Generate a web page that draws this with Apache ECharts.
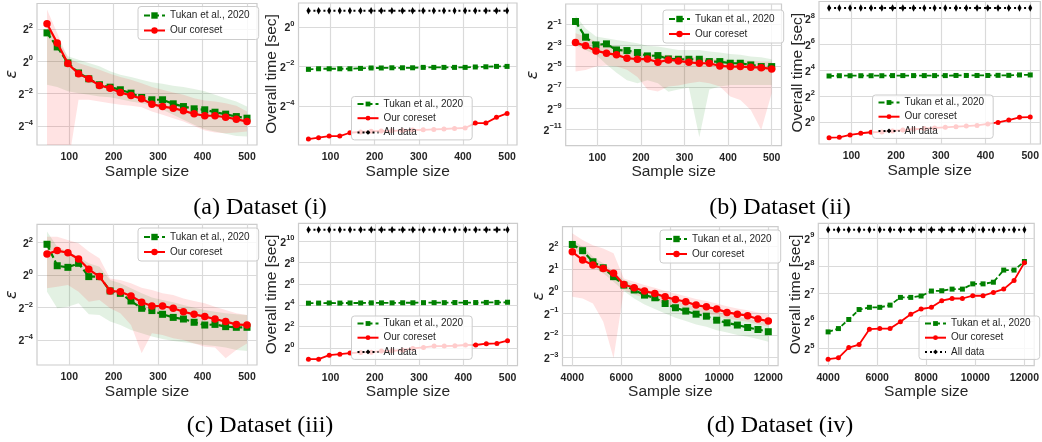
<!DOCTYPE html>
<html>
<head>
<meta charset="utf-8">
<script src="https://cdn.jsdelivr.net/npm/echarts@6/dist/echarts.min.js"></script>
<style>
  html, body { margin: 0; padding: 0; background: #fff; }
  #chart { width: 1042px; height: 442px; }
</style>
</head>
<body>
<div id="chart"></div>
<script>
// sample sizes on the x axes
var sizesSmall = [50, 73, 97, 121, 144, 168, 192, 215, 239, 263, 286, 310, 334, 357, 381, 405, 428, 452, 476, 500];
var sizesLarge = [4000, 4421, 4842, 5263, 5684, 6105, 6526, 6947, 7368, 7789, 8210, 8631, 9052, 9473, 9894, 10315, 10736, 11157, 11578, 12000];
var xTicksSmall = [100, 200, 300, 400, 500];
var xTicksLarge = [4000, 6000, 8000, 10000, 12000];
var captions = ["(a) Dataset (i)", "(b) Dataset (ii)", "(c) Dataset (iii)", "(d) Dataset (iv)"];

// all values below are log2 (epsilon or seconds)
// dataset (i)
var epsTukan_i = [1.76, 0.89, -0.1, -0.72, -1.08, -1.45, -1.6, -1.76, -1.97, -2.24, -2.38, -2.38, -2.63, -2.8, -2.94, -3.0, -3.15, -3.27, -3.42, -3.52];
var epsOurs_i = [2.32, 1.14, -0.14, -0.77, -1.08, -1.49, -1.66, -1.93, -2.11, -2.32, -2.65, -2.8, -2.9, -3.06, -3.25, -3.37, -3.37, -3.46, -3.58, -3.73];
var epsTukanHi_i = [2.07, 1.35, 0.31, 0.1, -0.1, -0.31, -0.62, -0.83, -0.97, -1.14, -1.3, -1.39, -1.51, -1.59, -1.72, -1.86, -2.07, -2.28, -2.48, -2.8];
var epsTukanLo_i = [-1.45, -1.59, -1.86, -1.97, -2.07, -2.17, -2.22, -2.34, -2.48, -2.59, -2.75, -3.0, -3.31, -3.62, -3.93, -4.2, -4.35, -4.49, -4.62, -4.66];
var epsOursHi_i = [3.21, 1.76, 0.21, -0.1, -0.31, -0.52, -0.77, -0.97, -1.14, -1.35, -1.59, -1.76, -1.93, -2.07, -2.28, -2.42, -2.48, -2.59, -2.75, -3.11];
var epsOursLo_i = [-40, -40, -6.5, -2.38, -2.38, -2.48, -2.59, -2.69, -2.75, -2.84, -3.11, -3.31, -3.52, -3.73, -4.0, -4.29, -4.41, -4.45, -4.41, -4.35];
var timeTukan_i = [-2.15, -2.12, -2.12, -2.12, -2.12, -2.1, -2.08, -2.08, -2.07, -2.07, -2.07, -2.05, -2.05, -2.05, -2.05, -2.05, -2.03, -2.02, -2.0, -2.0];
var timeOurs_i = [-5.68, -5.61, -5.53, -5.53, -5.36, -5.32, -5.29, -5.27, -5.26, -5.24, -5.22, -5.21, -5.19, -5.17, -5.14, -5.12, -4.87, -4.87, -4.58, -4.38];
var timeAll_i = [0.82, 0.82, 0.82, 0.82, 0.82, 0.82, 0.82, 0.82, 0.82, 0.82, 0.82, 0.82, 0.82, 0.82, 0.82, 0.82, 0.82, 0.82, 0.82, 0.82];

// dataset (ii)
var epsTukan_ii = [-0.69, -2.19, -2.93, -2.83, -3.41, -3.47, -3.66, -3.98, -3.95, -4.27, -4.3, -4.3, -4.3, -4.52, -4.52, -4.68, -4.68, -4.84, -5.0, -5.0];
var epsOurs_ii = [-2.7, -3.02, -3.5, -3.72, -3.88, -4.2, -4.3, -4.27, -4.59, -4.36, -4.46, -4.59, -4.68, -4.68, -4.94, -5.0, -5.0, -5.06, -5.1, -5.22];
var epsTukanHi_ii = [-0.1, -1.33, -2.13, -2.29, -2.45, -2.6, -2.77, -3.02, -3.09, -3.25, -3.41, -3.41, -3.41, -3.56, -3.66, -3.79, -3.88, -4.04, -4.11, -4.3];
var epsTukanLo_ii = [-2.93, -3.41, -3.88, -4.8, -5.6, -6.3, -6.6, -6.3, -6.6, -7.4, -7.2, -7.0, -11.76, -7.2, -6.9, -6.75, -6.75, -6.75, -6.75, -6.75];
var epsOursHi_ii = [-1.81, -2.13, -2.6, -2.93, -3.09, -3.41, -3.56, -3.72, -3.88, -3.88, -4.04, -4.04, -4.1, -4.2, -4.3, -4.36, -4.36, -4.43, -4.52, -4.52];
var epsOursLo_ii = [-5.48, -5.32, -5.0, -4.9, -5.0, -5.3, -6.0, -7.2, -7.39, -6.9, -6.8, -6.6, -6.44, -6.6, -6.91, -7.87, -8.19, -9.15, -11.06, -7.55];
var timeTukan_ii = [3.56, 3.58, 3.58, 3.58, 3.58, 3.58, 3.59, 3.59, 3.59, 3.59, 3.59, 3.59, 3.6, 3.6, 3.6, 3.6, 3.61, 3.61, 3.64, 3.64];
var timeOurs_ii = [-1.21, -1.18, -1.0, -0.87, -0.79, -0.77, -0.69, -0.62, -0.56, -0.51, -0.46, -0.41, -0.36, -0.31, -0.26, -0.15, -0.03, 0.15, 0.36, 0.38];
var timeAll_ii = [8.82, 8.82, 8.82, 8.82, 8.82, 8.82, 8.82, 8.82, 8.82, 8.82, 8.82, 8.82, 8.82, 8.82, 8.82, 8.82, 8.82, 8.82, 8.82, 8.82];

// dataset (iii)
var epsTukan_iii = [1.89, 0.57, 0.47, 0.72, -0.1, -0.1, -0.98, -1.13, -1.6, -2.05, -2.19, -2.42, -2.61, -2.71, -2.91, -3.08, -3.04, -3.18, -3.22, -3.22];
var epsOurs_iii = [1.29, 1.5, 1.37, 0.98, 0.35, -0.1, -0.98, -1.03, -1.29, -1.68, -1.91, -1.91, -2.05, -2.26, -2.42, -2.56, -2.71, -2.87, -3.04, -3.08];
var epsTukanHi_iii = [2.67, 1.74, 1.44, 1.13, 0.72, 0.51, -0.31, -0.51, -0.82, -1.13, -1.39, -1.54, -1.68, -1.85, -2.01, -2.15, -2.26, -2.36, -2.42, -2.46];
var epsTukanLo_iii = [-1.03, -2.05, -1.95, -1.74, -2.42, -2.46, -2.87, -3.08, -3.38, -3.59, -3.79, -3.94, -4.06, -4.14, -4.21, -4.31, -4.37, -4.47, -4.62, -4.68];
var epsOursHi_iii = [2.36, 2.36, 2.15, 1.95, 1.44, 1.03, -0.21, -0.31, -0.51, -0.78, -0.92, -1.13, -1.23, -1.44, -1.6, -1.74, -1.95, -2.15, -2.36, -2.46];
var epsOursLo_iii = [-0.82, -0.72, -0.62, -1.03, -1.64, -1.54, -2.05, -2.36, -3.08, -4.82, -3.59, -3.69, -3.9, -4.0, -4.21, -4.41, -4.47, -5.13, -4.62, -4.21];
var timeTukan_iii = [4.18, 4.19, 4.2, 4.19, 4.2, 4.2, 4.21, 4.21, 4.21, 4.22, 4.22, 4.23, 4.23, 4.23, 4.24, 4.24, 4.24, 4.25, 4.25, 4.27];
var timeOurs_iii = [-1.07, -1.07, -0.69, -0.6, -0.5, -0.44, -0.41, -0.31, -0.28, -0.22, -0.06, 0.03, 0.16, 0.16, 0.19, 0.26, 0.26, 0.38, 0.41, 0.67];
var timeAll_iii = [11.06, 11.06, 11.06, 11.06, 11.06, 11.06, 11.06, 11.06, 11.06, 11.06, 11.06, 11.06, 11.06, 11.06, 11.06, 11.06, 11.06, 11.06, 11.06, 11.06];

// dataset (iv)
var epsTukan_iv = [2.1, 1.82, 1.32, 1.05, 0.65, 0.27, 0.05, -0.18, -0.3, -0.56, -0.75, -0.9, -1.04, -1.13, -1.31, -1.43, -1.53, -1.64, -1.73, -1.83];
var epsOurs_iv = [1.77, 1.4, 1.17, 1.02, 0.8, 0.3, 0.15, 0, -0.11, -0.26, -0.38, -0.48, -0.63, -0.71, -0.81, -0.96, -1.04, -1.11, -1.26, -1.35];
var epsTukanHi_iv = [2.3, 2.0, 1.55, 1.25, 0.87, 0.5, 0.27, 0.09, -0.06, -0.26, -0.41, -0.56, -0.71, -0.78, -0.93, -1.05, -1.16, -1.23, -1.35, -1.46];
var epsTukanLo_iv = [1.92, 1.62, 1.1, 0.8, 0.42, 0, -0.33, -0.6, -0.81, -1.01, -1.2, -1.35, -1.5, -1.61, -1.76, -1.86, -1.98, -2.06, -2.16, -2.28];
var epsOursHi_iv = [2.6, 2.3, 2.07, 1.92, 1.7, 0.57, 0.42, 0.27, 0.15, 0, -0.11, -0.23, -0.36, -0.45, -0.56, -0.68, -0.78, -0.86, -0.96, -1.05];
var epsOursLo_iv = [-0.26, -0.33, -0.56, -1.38, -3.03, 0.05, -0.15, -0.3, -0.41, -0.56, -0.66, -0.78, -0.93, -1.01, -1.11, -1.23, -1.31, -1.38, -1.5, -1.61];
var timeTukan_iv = [5.61, 5.73, 6.06, 6.42, 6.5, 6.5, 6.58, 6.86, 6.86, 6.91, 7.09, 7.1, 7.16, 7.16, 7.35, 7.35, 7.41, 7.85, 7.85, 8.16];
var timeOurs_iv = [4.62, 4.67, 5.04, 5.15, 5.71, 5.73, 5.73, 5.98, 6.25, 6.44, 6.5, 6.74, 6.82, 6.82, 6.92, 6.92, 7.04, 7.16, 7.47, 8.12];
var timeAll_iv = [9.31, 9.31, 9.31, 9.31, 9.31, 9.31, 9.31, 9.31, 9.31, 9.31, 9.31, 9.31, 9.31, 9.31, 9.31, 9.31, 9.31, 9.31, 9.31, 9.31];

var panels = [
  { kind: "eps", xs: sizesSmall, xTicks: xTicksSmall, yTicks: [-4, -2, 0, 2],
    tukan: epsTukan_i, ours: epsOurs_i, tLo: epsTukanLo_i, tHi: epsTukanHi_i, oLo: epsOursLo_i, oHi: epsOursHi_i },
  { kind: "time", xs: sizesSmall, xTicks: xTicksSmall, yTicks: [-4, -2, 0],
    tukan: timeTukan_i, ours: timeOurs_i, all: timeAll_i },
  { kind: "eps", xs: sizesSmall, xTicks: xTicksSmall, yTicks: [-11, -9, -7, -5, -3, -1],
    tukan: epsTukan_ii, ours: epsOurs_ii, tLo: epsTukanLo_ii, tHi: epsTukanHi_ii, oLo: epsOursLo_ii, oHi: epsOursHi_ii },
  { kind: "time", xs: sizesSmall, xTicks: xTicksSmall, yTicks: [0, 2, 4, 6, 8],
    tukan: timeTukan_ii, ours: timeOurs_ii, all: timeAll_ii },
  { kind: "eps", xs: sizesSmall, xTicks: xTicksSmall, yTicks: [-4, -2, 0, 2],
    tukan: epsTukan_iii, ours: epsOurs_iii, tLo: epsTukanLo_iii, tHi: epsTukanHi_iii, oLo: epsOursLo_iii, oHi: epsOursHi_iii },
  { kind: "time", xs: sizesSmall, xTicks: xTicksSmall, yTicks: [0, 2, 4, 6, 8, 10],
    tukan: timeTukan_iii, ours: timeOurs_iii, all: timeAll_iii },
  { kind: "eps", xs: sizesLarge, xTicks: xTicksLarge, yTicks: [-3, -2, -1, 0, 1, 2],
    tukan: epsTukan_iv, ours: epsOurs_iv, tLo: epsTukanLo_iv, tHi: epsTukanHi_iv, oLo: epsOursLo_iv, oHi: epsOursHi_iv },
  { kind: "time", xs: sizesLarge, xTicks: xTicksLarge, yTicks: [5, 6, 7, 8, 9],
    tukan: timeTukan_iv, ours: timeOurs_iv, all: timeAll_iv }
];

// where each subplot sits
var layout = [
  { left: 37, top: 3.5, width: 220, height: 141.5, x: [27.5, 522.5], y: [-5.18, 3.58], nameGap: 17, lg: [138, 6.5] },
  { left: 298.5, top: 3, width: 218.5, height: 142, x: [27.5, 522.5], y: [-5.98, 1.21], nameGap: 19, lg: [351.5, 96.5] },
  { left: 565.7, top: 4, width: 215.8, height: 141.7, x: [27.5, 522.5], y: [-12.56, 0.98], nameGap: 24.5, lg: [663, 10] },
  { left: 819, top: 1.5, width: 223, height: 142.5, x: [27.5, 522.5], y: [-1.7, 9.32], nameGap: 13, lg: [872.5, 95] },
  { left: 37, top: 224.3, width: 220, height: 140.7, x: [27.5, 522.5], y: [-5.54, 3.12], nameGap: 17, lg: [138, 228] },
  { left: 298.5, top: 223.3, width: 219, height: 142.4, x: [27.5, 522.5], y: [-1.68, 11.67], nameGap: 19, lg: [351.5, 316] },
  { left: 562.5, top: 226.7, width: 215.6, height: 139, x: [3600, 12400], y: [-3.36, 2.9], nameGap: 16, lg: [660, 230] },
  { left: 818.3, top: 223.3, width: 220, height: 142.4, x: [3600, 12400], y: [4.385, 9.545], nameGap: 14.5, lg: [919, 316] }
];
var captionPos = [[260, 208], [780, 208], [260, 426], [780, 426]];

var FONT = "Liberation Sans";
var GREEN = "#008000";
var RED = "#ff0000";
var INK = "#262626";

function pairs(xs, ys) {
  return xs.map(function (x, i) { return [x, ys[i]]; });
}
function expLabel(v) {
  var n = Math.round(v);
  return "{b|2}{s|" + (n < 0 ? "\u2212" + (-n) : n) + "}";
}

var grids = [], xAxes = [], yAxes = [], series = [], legends = [];

// shaded spread between lo and hi, as one polygon mapped through the axes
function band(k, xs, lo, hi, fill) {
  series.push({
    type: "custom", xAxisIndex: k, yAxisIndex: k, clip: true, silent: true, z: 1,
    data: xs.map(function (x, i) { return [x, lo[i], hi[i]]; }),
    encode: { x: 0, y: [1, 2] },
    renderItem: function (params, api) {
      if (params.dataIndex !== 0) return null;
      var top = [], bottom = [];
      for (var i = 0; i < xs.length; i++) {
        top.push(api.coord([xs[i], hi[i]]));
        bottom.unshift(api.coord([xs[i], lo[i]]));
      }
      return { type: "polygon", shape: { points: top.concat(bottom) }, style: { fill: fill } };
    }
  });
}

panels.forEach(function (p, k) {
  var L = layout[k];
  var eps = p.kind === "eps";
  grids.push({ left: L.left, top: L.top, width: L.width, height: L.height,
    show: true, borderColor: "#cccccc", borderWidth: 1.2, backgroundColor: "transparent" });
  xAxes.push({
    gridIndex: k, type: "value", min: L.x[0], max: L.x[1],
    axisLine: { show: false }, axisTick: { show: false, customValues: p.xTicks },
    axisLabel: { customValues: p.xTicks, margin: 6.5, fontSize: 10.5, fontWeight: "bold", color: INK, fontFamily: FONT,
      formatter: function (v) { return String(v); } },
    splitLine: { show: true, lineStyle: { color: "#dadada", width: 1.2 } },
    name: "Sample size", nameLocation: "middle", nameGap: 14,
    nameTextStyle: { fontSize: 15.5, color: INK, fontFamily: FONT }
  });
  yAxes.push({
    gridIndex: k, type: "value", min: L.y[0], max: L.y[1],
    axisLine: { show: false }, axisTick: { show: false, customValues: p.yTicks },
    axisLabel: {
      customValues: p.yTicks, formatter: expLabel, margin: 4,
      rich: {
        b: { fontSize: 10.5, fontWeight: "bold", color: INK, fontFamily: FONT, verticalAlign: "bottom" },
        s: { fontSize: 7.5, fontWeight: "bold", color: INK, fontFamily: FONT, verticalAlign: "bottom", padding: [0, 0, 6, 0] }
      }
    },
    splitLine: { show: true, lineStyle: { color: "#dadada", width: 1.2 } },
    name: eps ? "\u03b5" : "Overall time [sec]", nameLocation: "middle", nameGap: L.nameGap,
    nameMoveOverlap: false,
    nameTextStyle: eps
      ? { fontSize: 16, fontStyle: "italic", color: INK, fontFamily: "DejaVu Sans" }
      : { fontSize: 15.5, color: INK, fontFamily: FONT }
  });

  if (eps) {
    band(k, p.xs, p.tLo, p.tHi, "rgba(0,128,0,0.11)");
    band(k, p.xs, p.oLo, p.oHi, "rgba(255,0,0,0.11)");
  }
  series.push({
    name: "Tukan et al., 2020", type: "line", xAxisIndex: k, yAxisIndex: k,
    data: pairs(p.xs, p.tukan), symbol: "rect", symbolSize: eps ? 7 : 5,
    lineStyle: { color: GREEN, width: eps ? 2.2 : 1.8, type: eps ? [6, 3] : [5, 2.5] },
    itemStyle: { color: GREEN }, z: 3
  });
  series.push({
    name: "Our coreset", type: "line", xAxisIndex: k, yAxisIndex: k,
    data: pairs(p.xs, p.ours), symbol: "circle", symbolSize: eps ? 7.5 : 5,
    lineStyle: { color: RED, width: eps ? 2.2 : 1.8 },
    itemStyle: { color: RED }, z: 4
  });
  if (!eps) {
    series.push({
      name: "All data", type: "line", xAxisIndex: k, yAxisIndex: k,
      data: pairs(p.xs, p.all), symbol: "diamond", symbolSize: [4, 7.5],
      lineStyle: { color: "#000", width: 2, type: [2, 3] },
      itemStyle: { color: "#000" }, z: 4
    });
  }
  legends.push({
    data: eps ? ["Tukan et al., 2020", "Our coreset"] : ["Tukan et al., 2020", "Our coreset", "All data"],
    left: L.lg[0], top: L.lg[1], orient: "vertical", selectedMode: false,
    itemWidth: 21, itemHeight: eps ? 8 : 6, itemGap: eps ? 3 : 2.2,
    padding: eps ? [3, 9, 3, 5] : [1.5, 9, 1.5, 5],
    backgroundColor: "rgba(255,255,255,0.8)", borderColor: "#cccccc", borderWidth: 1, borderRadius: 3,
    textStyle: { fontSize: 10, fontFamily: FONT, color: INK, lineHeight: 12 }, z: 10
  });
});

var chart = echarts.init(document.getElementById("chart"));
chart.setOption({
  backgroundColor: "#ffffff",
  animation: false,
  grid: grids,
  xAxis: xAxes,
  yAxis: yAxes,
  legend: legends,
  series: series,
  graphic: captions.map(function (t, i) {
    return {
      type: "text", x: captionPos[i][0], y: captionPos[i][1], silent: true,
      style: { text: t, fontSize: 24, fontFamily: "Liberation Serif", fill: "#000", align: "center", verticalAlign: "middle" }
    };
  })
});
</script>
</body>
</html>
